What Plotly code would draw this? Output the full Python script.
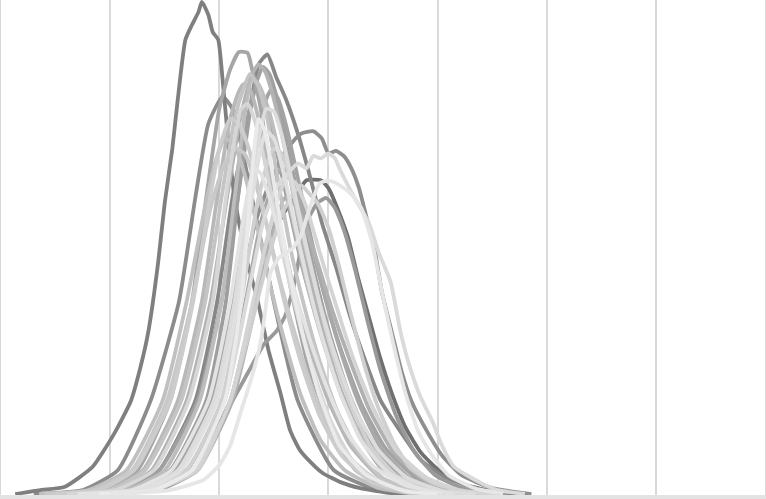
import plotly.graph_objects as go

# ---- data (x in grid units 0..7, y in 0..100) ----
c01_x = [0.13,0.36,0.58,0.84,1.04,1.19,1.28,1.35,1.44,1.50,1.57,1.62,1.69,1.75,1.81,1.84,1.90,1.94,1.99,2.03,2.08,2.14,2.24,2.35,2.45,2.56,2.65,2.74,2.88,2.95,3.11,3.29,3.57,3.84]
c01_y = [0.2,1.0,1.6,5.7,12.5,19,26,33,47,59,70,80,92,95,97.6,99.6,97,93.5,92,84,72,60,48.5,39.4,29.3,20.6,13,9,5.7,4.4,2.6,1.4,0.4,0.2]

c02_x = [0.30,0.75,1.07,1.37,1.63,1.78,1.90,2.03,2.12,2.30,2.50,2.72,3.05,3.45,3.90]
c02_y = [0.2,1,5,19,39,60,75,80.5,78,60,39,19,5,1,0.2]

c03_x = [0.50,0.95,1.25,1.55,1.75,1.88,2.00,2.10,2.18,2.26,2.30,2.38,2.50,2.68,2.90,3.25,3.60,4.00]
c03_y = [0.2,1,5,19,39,60,78,86,89.5,89.3,86,78,60,39,19,5,1,0.2]

c04_x = [0.70,1.15,1.45,1.78,1.98,2.12,2.28,2.36,2.44,2.52,2.61,2.72,2.84,2.94,3.07,3.20,3.34,3.48,3.67,3.85,4.08,4.40,4.76]
c04_y = [0.2,1,5,19,39,60,78,87,89,84.5,80,73,63.6,55,46,36,27,19,12.5,7,3.5,1,0.2]

c05_x = [0.75,1.20,1.60,1.93,2.17,2.33,2.46,2.57,2.66,2.75,2.86,2.94,3.00,3.07,3.14,3.21,3.28,3.35,3.42,3.49,3.58,3.67,3.76,3.90,4.04,4.22,4.50,4.86]
c05_y = [0.2,1,5,19,39,55,63,68,71,73,73.5,72,69,69.5,68.5,66,62,56,50,41,33,25,19,13,8,4,1.4,0.2]

c06_x = [0.90,1.38,1.75,2.10,2.32,2.50,2.62,2.74,2.80,2.93,3.00,3.09,3.18,3.27,3.37,3.47,3.58,3.71,3.85,4.03,4.26,4.60]
c06_y = [0.2,1,5,19,39,53,58,62,63.6,63.6,62,57.5,52,44,36,28,20.6,13.5,8.5,4.6,2,0.3]

c07_x = [0.85,1.35,1.75,2.05,2.25,2.40,2.52,2.63,2.72,2.80,2.86,2.93,3.00,3.06,3.10,3.24,3.37,3.46,3.57,3.66,3.73,3.84,3.96,4.03,4.15,4.40,4.55,4.80]
c07_y = [0.2,1,5,19,39,55,62,65,67,66,68.5,68,69,68,66,60,55,49,43,33,27,20,14.5,10.5,5.7,2.4,1,0.2]

c08_x = [1.00,1.55,1.85,2.00,2.10,2.20,2.30,2.38,2.42,2.47,2.55,2.62,2.68,2.75,2.80,2.86,2.92,3.00,3.07,3.20,3.30,3.40,3.50,3.60,3.70,3.82,3.95,4.10,4.35,4.60]
c08_y = [0.2,1,3,6,10,17,24,31,37,45,48,49,50,52.5,56,60,63,63.5,63,61,58,51,40,30,21,13,8,4,1.3,0.3]

c09_x = [0.90,1.40,1.80,2.10,2.30,2.45,2.58,2.68,2.75,2.82,2.90,3.00,3.10,3.20,3.32,3.45,3.60,3.75,3.95,4.20,4.45]
c09_y = [0.2,1,5,19,35,48,57,61,62.6,61,59,54,46,37,27,18,10.5,5.5,2.5,0.8,0.2]

c10_x = [0.60,1.05,1.38,1.70,1.92,2.07,2.20,2.30,2.36,2.42,2.50,2.60,2.70,2.82,2.95,3.10,3.28,3.50,3.80,4.10]
c10_y = [0.2,1,5,19,39,60,77,85,87,85.5,80,70,58,45,33,22,12,5,1.5,0.2]

c11_x = [0.55,1.00,1.32,1.65,1.87,2.02,2.14,2.22,2.28,2.35,2.44,2.55,2.66,2.78,2.92,3.08,3.28,3.52,3.85,4.15]
c11_y = [0.2,1,5,19,39,60,76,82,85,83,76,62,49,38,27,17,8.5,3,0.8,0.2]

c12_x = [0.65,1.10,1.45,1.80,2.02,2.17,2.28,2.35,2.40,2.46,2.53,2.63,2.75,2.88,3.02,3.18,3.38,3.62,3.95,4.30]
c12_y = [0.2,1,5,19,39,60,77,84,86.5,85,80,70,57,44,32,21,11,4.5,1.2,0.2]

c13_x = [0.60,1.05,1.40,1.72,1.94,2.06,2.15,2.20,2.26,2.32,2.40,2.50,2.60,2.72,2.86,3.02,3.22,3.50,3.85]
c13_y = [0.2,1,5,19,39,60,73,78,79,76,69,58,47,36,25,15,7,2.2,0.3]

c14_x = [0.80,1.30,1.65,1.98,2.17,2.30,2.38,2.43,2.50,2.58,2.68,2.80,2.94,3.10,3.30,3.55,3.85,4.15]
c14_y = [0.2,1,5,19,39,60,70,73.5,72,66,56,44,32,21,11,4.5,1.2,0.2]

c15_x = [0.70,1.15,1.50,1.82,2.02,2.14,2.24,2.30,2.36,2.45,2.56,2.68,2.80,2.95,3.12,3.33,3.60,3.95,4.30]
c15_y = [0.2,1,5,19,39,60,78,84,83,78,68,55,43,31,20,10.5,4,1,0.2]

c16_x = [0.45,0.90,1.22,1.55,1.76,1.90,2.00,2.10,2.18,2.27,2.38,2.50,2.62,2.76,2.92,3.12,3.40,3.75]
c16_y = [0.2,1,5,19,39,58,70,76,75,70,60,48,37,26,16,8,2.5,0.5]

c17_x = [0.75,1.20,1.55,1.88,2.06,2.17,2.26,2.33,2.40,2.50,2.62,2.75,2.90,3.06,3.25,3.48,3.78,4.10]
c17_y = [0.2,1,5,19,39,60,76,82,80.5,72,60,47,35,24,14,6.5,2,0.3]

c18_x = [0.80,1.28,1.62,1.95,2.14,2.27,2.37,2.43,2.50,2.58,2.68,2.80,2.93,3.08,3.25,3.46,3.72,4.05,4.35]
c18_y = [0.2,1,5,19,39,60,73,78,77.5,72,62,50,38,27,17,9,3.5,0.8,0.2]

c19_x = [0.50,0.98,1.30,1.62,1.84,1.98,2.10,2.17,2.22,2.28,2.36,2.46,2.58,2.70,2.84,3.00,3.20,3.45,3.75,4.05]
c19_y = [0.2,1,5,19,39,60,76,81,83,82,76,65,52,40,29,19,10,4,1,0.2]

c20_x = [0.85,1.35,1.70,2.02,2.20,2.34,2.44,2.50,2.57,2.66,2.76,2.88,3.02,3.18,3.38,3.62,3.95,4.25]
c20_y = [0.2,1,5,19,39,58,67,70,69,63,53,42,30,19.5,10,4,1,0.2]

c21_x = [0.80,1.30,1.70,2.03,2.24,2.38,2.48,2.57,2.64,2.74,2.86,2.98,3.12,3.28,3.48,3.74,4.08,4.40]
c21_y = [0.2,1,5,19,39,55,62,66,65,59,49,39,28.5,18.5,9.5,3.5,0.8,0.2]

c22_x = [0.40,0.85,1.20,1.52,1.75,1.92,2.05,2.15,2.23,2.32,2.44,2.56,2.70,2.86,3.05,3.30,3.60,3.95]
c22_y = [0.2,1,5,19,39,58,67,70,69,64,54,43,32,21,11.5,5,1.5,0.2]

c23_x = [0.70,1.20,1.56,1.90,2.10,2.22,2.28,2.32,2.38,2.46,2.56,2.68,2.82,2.98,3.16,3.40,3.70,4.05]
c23_y = [0.2,1,5,19,39,56,63,66,65,60,52,42,32,22,13,6,2,0.3]

c24_x = [0.90,1.42,1.80,2.12,2.32,2.45,2.54,2.60,2.68,2.78,2.90,3.04,3.20,3.38,3.60,3.88,4.20,4.50]
c24_y = [0.2,1,5,19,37,50,57,60,59,55,47,37,27,17,8.5,3,0.7,0.2]

c25_x = [0.88,1.40,1.78,2.10,2.30,2.44,2.54,2.62,2.70,2.80,2.92,3.06,3.22,3.40,3.62,3.90,4.20,4.55]
c25_y = [0.2,1,5,19,38,52,60,64,63,58,49,39,28,18,9,3.5,1,0.2]

c26_x = [1.00,1.50,1.80,1.99,2.17,2.27,2.41,2.52,2.60,2.68,2.75,2.82,2.90,2.98,3.06,3.15,3.25,3.36,3.48,3.62,3.78,3.98,4.25,4.55]
c26_y = [0.2,1.5,5,13.7,21,25,30.5,33,36,42,50,56,59,60,58,53,45,35,25,16,9,4,1.2,0.2]

c27_x = [0.35,0.80,1.15,1.48,1.70,1.85,1.96,2.05,2.13,2.23,2.35,2.47,2.60,2.75,2.93,3.15,3.45,3.80]
c27_y = [0.2,1,5,19,39,56,67,72,71,65,54,42,31,20,11,5,1.5,0.2]

c28_x = [0.90,1.40,1.75,2.05,2.20,2.28,2.33,2.36,2.41,2.48,2.56,2.66,2.78,2.92,3.10,3.35,3.70,4.00]
c28_y = [0.2,1,5,19,39,60,72,76,74,66,55,43,31,20,10,4,0.8,0.2]

c29_x = [0.75,1.22,1.58,1.92,2.12,2.26,2.36,2.43,2.48,2.54,2.62,2.72,2.84,2.97,3.12,3.30,3.52,3.80,4.15,4.45]
c29_y = [0.2,1,5,19,39,60,74,80,82,80,74,64,52,40,29,18.5,9.5,3.5,0.8,0.2]

shades = {
    "c01": "#7f7f7f", "c02": "#8c8c8c", "c03": "#a6a6a6", "c04": "#878787",
    "c05": "#8e8e8e", "c06": "#6f6f6f", "c07": "#dadada", "c08": "#e6e6e6",
    "c09": "#cfcfcf", "c10": "#b3b3b3", "c11": "#c4c4c4", "c12": "#a0a0a0",
    "c13": "#d6d6d6", "c14": "#e0e0e0", "c15": "#bdbdbd", "c16": "#cccccc",
    "c17": "#9e9e9e", "c18": "#dcdcdc", "c19": "#b8b8b8", "c20": "#d0d0d0",
    "c21": "#a8a8a8", "c22": "#c8c8c8", "c23": "#e3e3e3", "c24": "#b0b0b0",
    "c25": "#d4d4d4", "c26": "#999999", "c27": "#c0c0c0", "c28": "#eaeaea",
    "c29": "#a3a3a3",
}

series = {
    "c01": (c01_x, c01_y), "c02": (c02_x, c02_y), "c03": (c03_x, c03_y),
    "c04": (c04_x, c04_y), "c05": (c05_x, c05_y), "c06": (c06_x, c06_y),
    "c07": (c07_x, c07_y), "c08": (c08_x, c08_y), "c09": (c09_x, c09_y),
    "c10": (c10_x, c10_y), "c11": (c11_x, c11_y), "c12": (c12_x, c12_y),
    "c13": (c13_x, c13_y), "c14": (c14_x, c14_y), "c15": (c15_x, c15_y),
    "c16": (c16_x, c16_y), "c17": (c17_x, c17_y), "c18": (c18_x, c18_y),
    "c19": (c19_x, c19_y), "c20": (c20_x, c20_y), "c21": (c21_x, c21_y),
    "c22": (c22_x, c22_y), "c23": (c23_x, c23_y), "c24": (c24_x, c24_y),
    "c25": (c25_x, c25_y), "c26": (c26_x, c26_y), "c27": (c27_x, c27_y),
    "c28": (c28_x, c28_y), "c29": (c29_x, c29_y),
}

draw_order = ["c06", "c02", "c04", "c05", "c01", "c26", "c12", "c17", "c29",
              "c21", "c03", "c24", "c10", "c19", "c15", "c27", "c11", "c22",
              "c16", "c20", "c09", "c25", "c13", "c18", "c07", "c14", "c23",
              "c28", "c08"]

fig = go.Figure()
for key in draw_order:
    xs, ys = series[key]
    fig.add_trace(go.Scatter(
        x=xs, y=ys, mode="lines", name=key,
        line=dict(color=shades[key], width=3.8, shape="spline", smoothing=0.5),
        hoverinfo="skip", showlegend=False,
    ))

fig.update_layout(
    width=766, height=499,
    margin=dict(l=1, r=1, t=0, b=4),
    paper_bgcolor="white", plot_bgcolor="white",
    showlegend=False,
)
fig.update_xaxes(range=[0, 7], dtick=1, showgrid=True, gridcolor="#d9d9d9",
                 gridwidth=2, zeroline=False, showticklabels=False, ticks="",
                 showline=True, linecolor="#e3e3e3", linewidth=4)
fig.update_yaxes(range=[0, 100], showgrid=False, zeroline=False,
                 showticklabels=False, ticks="",
                 showline=True, linecolor="#d9d9d9", linewidth=2, mirror=True)

fig.write_html("out.html")
